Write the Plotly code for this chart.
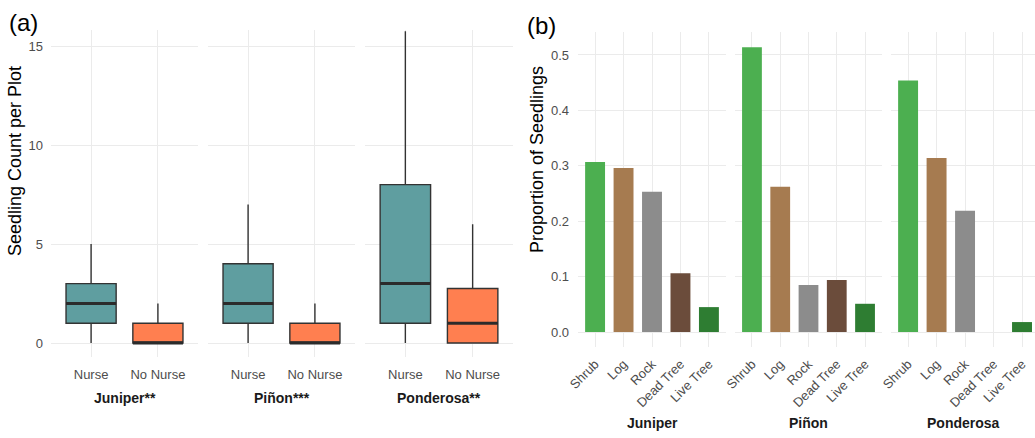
import plotly.graph_objects as go

W, H = 1035, 438
FONT = "Liberation Sans, Arial, sans-serif"

# ---- Panel (a): seedling counts per plot, nurse vs. no nurse ----
species_a = ["Juniper**", "Piñon***", "Ponderosa**"]
groups = ["Nurse", "No Nurse"]
box_low = [[0, 0], [0, 0], [0, 0]]
box_q1 = [[1, 0], [1, 0], [1, 0]]
box_med = [[2, 0], [2, 0], [3, 1]]
box_q3 = [[3, 1], [4, 1], [8, 2.75]]
box_high = [[5, 2], [7, 2], [15.75, 6]]
group_colors = ["#5F9EA0", "#FF7F50"]

# ---- Panel (b): proportion of seedlings by microsite ----
species_b = ["Juniper", "Piñon", "Ponderosa"]
microsites = ["Shrub", "Log", "Rock", "Dead Tree", "Live Tree"]
proportions = [
    [0.307, 0.296, 0.253, 0.106, 0.045],
    [0.514, 0.262, 0.085, 0.094, 0.051],
    [0.454, 0.314, 0.219, 0.0, 0.018],
]
site_colors = ["#4CAF50", "#A67B50", "#8C8C8C", "#6B4C3B", "#2E7D32"]

GRID = "#EBEBEB"
TICK = "#4D4D4D"


def px_x(a, b):
    return [a / W, min(b / W, 1.0)]


def px_y(top, bottom):
    return [1 - bottom / H, 1 - top / H]


def label(text, x, y, size=13, angle=0, color="#1A1A1A"):
    fig.add_annotation(
        text=text, xref="paper", yref="paper", x=x / W, y=1 - y / H,
        xanchor="center", yanchor="middle", textangle=angle,
        showarrow=False, font=dict(size=size, color=color, family=FONT),
    )


fig = go.Figure()
layout = {}

a_dom = [(51, 198), (208, 355), (365, 513)]
b_dom = [(578, 726), (735, 882), (891, 1035)]
b_ranges = [[0.4, 5.6], [0.4, 5.6], [0.4, 5.456]]
b_label_x = [652, 808, 963]

# facets of panel (a)
for i, sp in enumerate(species_a):
    k = i + 1
    xa, ya = f"x{k}", f"y{k}"
    for j, g in enumerate(groups):
        fig.add_trace(go.Box(
            x=[j + 1], q1=[box_q1[i][j]], median=[box_med[i][j]],
            q3=[box_q3[i][j]], lowerfence=[box_low[i][j]],
            upperfence=[box_high[i][j]], width=0.75, whiskerwidth=0,
            fillcolor=group_colors[j], line=dict(color="#333333", width=1.4),
            boxpoints=False, showlegend=False, xaxis=xa, yaxis=ya,
            hoverinfo="skip",
        ))
        # heavier median bar
        fig.add_trace(go.Scatter(
            x=[j + 1 - 0.375, j + 1 + 0.375],
            y=[box_med[i][j], box_med[i][j]], mode="lines",
            line=dict(color="#2B2B2B", width=3), showlegend=False,
            xaxis=xa, yaxis=ya, hoverinfo="skip",
        ))
    layout[f"xaxis{k}"] = dict(
        domain=px_x(*a_dom[i]), range=[0.4, 2.6], anchor=ya, automargin=False,
        tickvals=[1, 2], ticktext=groups, showgrid=True, gridcolor=GRID,
        zeroline=False, showline=False, ticks="", ticklabelstandoff=8,
        tickfont=dict(size=13, color=TICK, family=FONT),
    )
    layout[f"yaxis{k}"] = dict(
        domain=px_y(30, 357), range=[-0.707, 15.81], anchor=xa, automargin=False,
        tickvals=[0, 5, 10, 15], showticklabels=(i == 0), showgrid=True,
        gridcolor=GRID, zeroline=False, showline=False, ticks="",
        ticklabelstandoff=7, tickfont=dict(size=13, color=TICK, family=FONT),
    )

# facets of panel (b)
for i, sp in enumerate(species_b):
    k = i + 4
    xa, ya = f"x{k}", f"y{k}"
    fig.add_trace(go.Bar(
        x=list(range(1, 6)), y=proportions[i], width=0.7,
        marker=dict(color=site_colors, line=dict(width=0)),
        showlegend=False, xaxis=xa, yaxis=ya, hoverinfo="skip",
    ))
    layout[f"xaxis{k}"] = dict(
        domain=px_x(*b_dom[i]), range=b_ranges[i], anchor=ya, automargin=False,
        tickvals=list(range(1, 6)), ticktext=microsites, tickangle=-45,
        showgrid=True, gridcolor=GRID, zeroline=False, showline=False,
        ticks="", ticklabelstandoff=6,
        tickfont=dict(size=13, color=TICK, family=FONT),
    )
    layout[f"yaxis{k}"] = dict(
        domain=px_y(32, 347), range=[-0.027, 0.5415], anchor=xa, automargin=False,
        tickvals=[0, 0.1, 0.2, 0.3, 0.4, 0.5], tickformat=".1f",
        showticklabels=(i == 0), showgrid=True, gridcolor=GRID,
        zeroline=False, showline=False, ticks="", ticklabelstandoff=8,
        tickfont=dict(size=13, color=TICK, family=FONT),
    )

fig.update_layout(
    width=W, height=H, margin=dict(l=0, r=0, t=0, b=0),
    paper_bgcolor="white", plot_bgcolor="white",
    font=dict(family=FONT), **layout,
)

# strip labels under each facet
for i, sp in enumerate(species_a):
    label(f"<b>{sp}</b>", (a_dom[i][0] + a_dom[i][1]) / 2, 398, size=14)
for i, sp in enumerate(species_b):
    label(f"<b>{sp}</b>", b_label_x[i], 423, size=14)

# axis titles and panel tags
label("Seedling Count per Plot", 15, 161, size=18, angle=-90, color="black")
label("Proportion of Seedlings", 537, 160, size=18, angle=-90, color="black")
label("(a)", 23, 22, size=24, color="black")
label("(b)", 541, 26, size=24, color="black")

fig.write_html("out.html")
